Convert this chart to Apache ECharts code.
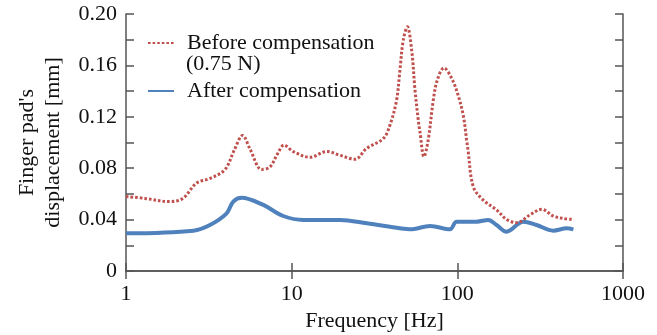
<!DOCTYPE html>
<html>
<head>
<meta charset="utf-8">
<script src="https://cdn.jsdelivr.net/npm/echarts@6/dist/echarts.min.js"></script>
<style>
html, body { margin: 0; padding: 0; background: #fff; }
#chart { width: 657px; height: 335px; }
</style>
</head>
<body>
<div id="chart"></div>
<script>
// frequency [Hz] / displacement [mm]
const beforeFreq = [1, 1.3, 1.84, 2.2, 2.67, 3.21, 3.96, 4.5, 5.06, 5.6, 6.59, 7.4, 8.2, 9.0, 10.2, 12.9, 16.3, 19.6, 24.1, 28.4, 35.7, 39.2, 43, 45, 47.2, 49.9, 53, 55.5, 58.1, 59.5, 62.9, 66.7, 71.6, 75.7, 83, 92.4, 101, 108.6, 113.8, 116, 124.8, 143.3, 172.6, 198, 228, 274, 323, 379, 430, 490]
const beforeVals = [0.058, 0.0565, 0.054, 0.0565, 0.0685, 0.072, 0.079, 0.094, 0.1055, 0.095, 0.079, 0.081, 0.091, 0.098, 0.093, 0.0885, 0.093, 0.090, 0.087, 0.0955, 0.103, 0.1136, 0.133, 0.156, 0.180, 0.190, 0.172, 0.141, 0.1175, 0.108, 0.089, 0.102, 0.133, 0.1486, 0.158, 0.150, 0.137, 0.121, 0.102, 0.094, 0.0656, 0.0552, 0.0475, 0.0402, 0.0376, 0.0436, 0.048, 0.0428, 0.041, 0.0402]

const afterFreq = [1, 2.55, 3.21, 4.05, 4.44, 4.99, 6.74, 8.9, 11.75, 19.6, 28.4, 45, 51.8, 68.4, 90.3, 99, 130.8, 153.7, 172.6, 198, 250, 301, 379, 457, 502]
const afterVals = [0.0293, 0.0314, 0.0358, 0.0449, 0.054, 0.057, 0.0514, 0.0428, 0.0397, 0.0397, 0.0371, 0.0332, 0.0324, 0.035, 0.0324, 0.0384, 0.0384, 0.0397, 0.0358, 0.0306, 0.0384, 0.0358, 0.0314, 0.0332, 0.0324]

const xTicks = [1, 10, 100, 1000]

const font = "'Liberation Serif', 'Times New Roman', serif"
const axisColor = '#555'
const textColor = '#111'
const red = '#c0504d'
const blue = '#4f81bd'

const zip = (xs, ys) => xs.map((x, i) => [x, ys[i]])

const myChart = echarts.init(document.getElementById('chart'))

const xBase = {
    type: 'log',
    logBase: 10,
    min: 1,
    max: 1000,
    axisLine: { lineStyle: { color: axisColor, width: 1.5 } },
    axisTick: { inside: true, length: 8, lineStyle: { color: axisColor, width: 1.5 } },
    splitLine: { show: false }
}
const yBase = {
    type: 'value',
    min: 0,
    max: 0.2,
    interval: 0.04,
    axisLine: { show: true, lineStyle: { color: axisColor, width: 1.5 } },
    axisTick: { show: true, inside: true, length: 8, lineStyle: { color: axisColor, width: 1.5 } },
    minorTick: { show: true, splitNumber: 2, length: 8, lineStyle: { color: axisColor, width: 1.5 } },
    splitLine: { show: false }
}

myChart.setOption({
    animation: false,
    textStyle: { fontFamily: font },
    grid: { left: 126, right: 34, top: 14, bottom: 64, outerBoundsMode: 'none', containLabel: false },
    legend: {
        orient: 'vertical',
        left: 142,
        top: 27,
        itemWidth: 26,
        itemHeight: 14,
        itemGap: 26,
        itemStyle: { opacity: 0 },
        textStyle: { fontFamily: font, fontSize: 22, color: textColor, padding: [0, 0, 0, 8] },
        data: ['Before compensation', 'After compensation']
    },
    graphic: [{
        type: 'text',
        left: 186,
        top: 53,
        style: { text: '(0.75 N)', font: '22px ' + font, fill: textColor }
    }],
    xAxis: [
        Object.assign({}, xBase, {
            position: 'bottom',
            name: 'Frequency [Hz]',
            nameLocation: 'middle',
            nameGap: 37,
            nameTextStyle: { fontSize: 22, color: textColor, fontFamily: font },
            axisLabel: {
                margin: 12, fontSize: 22, color: textColor, fontFamily: font,
                formatter: v => xTicks.includes(Math.round(v)) ? String(Math.round(v)) : ''
            }
        }),
        Object.assign({}, xBase, { position: 'top', axisLabel: { show: false } })
    ],
    yAxis: [
        Object.assign({}, yBase, {
            position: 'left',
            name: "Finger pad's\ndisplacement [mm]",
            nameLocation: 'middle',
            nameRotate: 90,
            nameGap: 60,
            nameTextStyle: { fontSize: 22, color: textColor, fontFamily: font, lineHeight: 26 },
            axisLabel: {
                margin: 9, fontSize: 22, color: textColor, fontFamily: font,
                formatter: v => v === 0 ? '0' : v.toFixed(2)
            }
        }),
        Object.assign({}, yBase, { position: 'right', axisLabel: { show: false } })
    ],
    series: [
        {
            name: 'Before compensation',
            type: 'line',
            data: zip(beforeFreq, beforeVals),
            smooth: 0.35,
            symbol: 'none',
            color: red,
            lineStyle: { color: red, width: 3, type: [2.6, 2], cap: 'butt' },
            z: 3
        },
        {
            name: 'After compensation',
            type: 'line',
            data: zip(afterFreq, afterVals),
            smooth: 0.35,
            symbol: 'none',
            color: blue,
            lineStyle: { color: blue, width: 4 },
            z: 2
        }
    ]
})
</script>
</body>
</html>
